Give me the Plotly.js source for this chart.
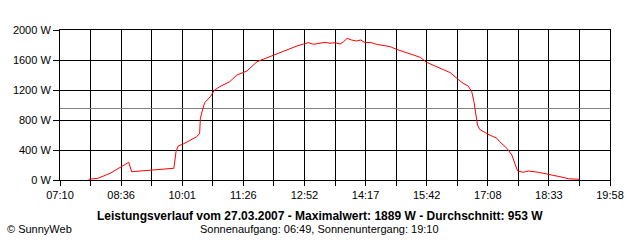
<!DOCTYPE html>
<html>
<head>
<meta charset="utf-8">
<script src="https://cdn.plot.ly/plotly-3.0.1.min.js"></script>
<style>
html,body{margin:0;padding:0;background:#fff;}
#chart{width:640px;height:240px;}
</style>
</head>
<body>
<div id="chart"></div>
<script>
// Time of day of each reading (HH:MM)
const times = ["07:50","08:03","08:20","08:34","08:46","08:50","09:02","09:18","09:34","09:49",
  "09:52","09:55","10:02","10:12","10:21","10:25","10:26","10:29","10:32","10:40",
  "10:45","10:53","11:07","11:17","11:31","11:45","11:59","12:13","12:27","12:41",
  "12:50","12:57","13:04","13:13","13:20","13:27","13:34","13:41","13:46","13:51",
  "13:57","14:04","14:10","14:16","14:23","14:32","14:41","14:51","15:00","15:09",
  "15:19","15:33","15:42","15:51","16:05","16:15","16:26","16:33","16:40","16:45",
  "16:48","16:51","16:53","16:56","17:07","17:20","17:24","17:34","17:41","17:45",
  "17:49","17:57","18:04","18:18","18:32","18:48","19:00","19:15"];
// Power in W
const power = [9,23,89,164,236,111,120,124,143,156,
  377,453,480,533,577,623,823,933,1031,1111,
  1191,1244,1311,1400,1453,1577,1631,1689,1742,1787,
  1813,1831,1809,1823,1836,1823,1831,1813,1844,1889,
  1867,1853,1867,1831,1836,1809,1796,1778,1742,1711,
  1680,1636,1569,1533,1467,1431,1342,1289,1253,1177,
  1044,889,733,676,613,556,511,423,333,223,
  120,103,120,103,80,44,17,9];
const averageW = 953;
const xTickLabels = ["07:10","08:36","10:01","11:26","12:52","14:17","15:42","17:08","18:33","19:58"];
const yTickValues = [0,400,800,1200,1600,2000];
const titleText = "Leistungsverlauf vom 27.03.2007 - Maximalwert: 1889 W - Durchschnitt: 953 W";
const subText = "Sonnenaufgang: 06:49, Sonnenuntergang: 19:10";
const creditText = "\u00a9 SunnyWeb";

function toMin(s){const p=s.split(":");return (+p[0])*60+(+p[1]);}
const xs = times.map(toMin);
const x0 = toMin(xTickLabels[0]), x1 = toMin(xTickLabels[xTickLabels.length-1]);
// grid every half label interval
const nGrid = (xTickLabels.length-1)*2;
const gridVals = [], gridText = [];
for(let i=0;i<=nGrid;i++){gridVals.push(x0+(x1-x0)*i/nGrid);gridText.push(i%2===0?xTickLabels[i/2]:"");}

const font = {family:"Liberation Sans, Arial, sans-serif", size:11, color:"#000"};
const data = [
  {x:[x0,x1], y:[averageW,averageW], mode:"lines", line:{color:"#808080",width:1}, hoverinfo:"skip"},
  {x:xs, y:power, mode:"lines", line:{color:"#ff0000",width:1}}
];
const layout = {
  width:640, height:240,
  margin:{l:60,r:30,t:30,b:60},
  paper_bgcolor:"#fff", plot_bgcolor:"#fff",
  showlegend:false,
  font:font,
  xaxis:{range:[x0,x1], tickmode:"array", tickvals:gridVals, ticktext:gridText,
    showgrid:true, gridcolor:"#000", gridwidth:1, zeroline:false,
    showline:true, linecolor:"#000", linewidth:1, mirror:true,
    ticks:"outside", ticklen:5, tickcolor:"#000", tickwidth:1, tickfont:font},
  yaxis:{range:[0,2000], tickmode:"array", tickvals:yTickValues, ticktext:yTickValues.map(v=>v+" W"),
    showgrid:true, gridcolor:"#000", gridwidth:1, zeroline:false,
    showline:true, linecolor:"#000", linewidth:1, mirror:true,
    ticks:"outside", ticklen:6, tickcolor:"#000", tickwidth:1, tickfont:font},
  annotations:[
    {text:"<b>"+titleText+"</b>", xref:"paper", yref:"paper", x:0.4727, y:-0.24, xanchor:"center", yanchor:"middle", showarrow:false,
     font:{family:"Liberation Sans, Arial, sans-serif", size:12, color:"#000"}},
    {text:subText, xref:"paper", yref:"paper", x:0.4727, y:-0.327, xanchor:"center", yanchor:"middle", showarrow:false, font:font},
    {text:creditText, xref:"paper", yref:"paper", x:-0.1, y:-0.327, xanchor:"left", yanchor:"middle", showarrow:false, font:font}
  ]
};
Plotly.newPlot("chart", data, layout, {staticPlot:true, displayModeBar:false});
</script>
</body>
</html>
